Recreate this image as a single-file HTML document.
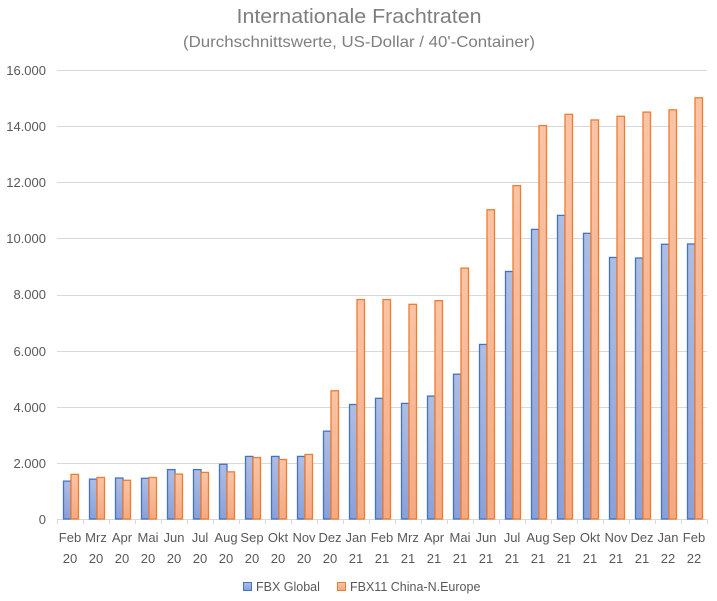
<!DOCTYPE html>
<html><head><meta charset="utf-8"><style>
body{margin:0;background:#fff}
svg{display:block;font-family:"Liberation Sans",sans-serif}
</style></head><body>
<svg id="s" width="717" height="601" viewBox="0 0 717 601">
<defs>
<linearGradient id="gb" x1="0" y1="0" x2="0" y2="1"><stop offset="0" stop-color="#aebde3"/><stop offset="1" stop-color="#8aa0d9"/></linearGradient>
<linearGradient id="go" x1="0" y1="0" x2="0" y2="1"><stop offset="0" stop-color="#f9c4a6"/><stop offset="1" stop-color="#f5a982"/></linearGradient>
</defs>
<rect width="717" height="601" fill="#fff"/>
<text x="359" y="23" text-anchor="middle" font-size="20" fill="#7f7f7f" textLength="245" lengthAdjust="spacingAndGlyphs">Internationale Frachtraten</text>
<text x="359" y="47" text-anchor="middle" font-size="16" fill="#7f7f7f" textLength="352" lengthAdjust="spacingAndGlyphs">(Durchschnittswerte, US-Dollar / 40'-Container)</text>
<g id="grid" stroke="#d9d9d9" stroke-width="1"></g>
<g id="bars"></g>
<g font-size="13" fill="#595959" text-anchor="end">
<text x="46" y="524">0</text>
<text x="46" y="468">2.000</text>
<text x="46" y="412">4.000</text>
<text x="46" y="356">6.000</text>
<text x="46" y="299">8.000</text>
<text x="46" y="243">10.000</text>
<text x="46" y="187">12.000</text>
<text x="46" y="131">14.000</text>
<text x="46" y="75">16.000</text>
</g>
<g font-size="13" fill="#595959" text-anchor="middle">
<text x="70" y="542">Feb</text><text x="70" y="563">20</text>
<text x="96" y="542">Mrz</text><text x="96" y="563">20</text>
<text x="122" y="542">Apr</text><text x="122" y="563">20</text>
<text x="148" y="542">Mai</text><text x="148" y="563">20</text>
<text x="174" y="542">Jun</text><text x="174" y="563">20</text>
<text x="200" y="542">Jul</text><text x="200" y="563">20</text>
<text x="226" y="542">Aug</text><text x="226" y="563">20</text>
<text x="252" y="542">Sep</text><text x="252" y="563">20</text>
<text x="278" y="542">Okt</text><text x="278" y="563">20</text>
<text x="304" y="542">Nov</text><text x="304" y="563">20</text>
<text x="330" y="542">Dez</text><text x="330" y="563">20</text>
<text x="356" y="542">Jan</text><text x="356" y="563">21</text>
<text x="382" y="542">Feb</text><text x="382" y="563">21</text>
<text x="408" y="542">Mrz</text><text x="408" y="563">21</text>
<text x="434" y="542">Apr</text><text x="434" y="563">21</text>
<text x="460" y="542">Mai</text><text x="460" y="563">21</text>
<text x="486" y="542">Jun</text><text x="486" y="563">21</text>
<text x="512" y="542">Jul</text><text x="512" y="563">21</text>
<text x="538" y="542">Aug</text><text x="538" y="563">21</text>
<text x="564" y="542">Sep</text><text x="564" y="563">21</text>
<text x="590" y="542">Okt</text><text x="590" y="563">21</text>
<text x="616" y="542">Nov</text><text x="616" y="563">21</text>
<text x="642" y="542">Dez</text><text x="642" y="563">21</text>
<text x="668" y="542">Jan</text><text x="668" y="563">22</text>
<text x="694" y="542">Feb</text><text x="694" y="563">22</text>
</g>
<rect x="243.5" y="582.5" width="8" height="8" fill="url(#gb)" stroke="#4472c4"/>
<text x="256" y="591" font-size="12.5" fill="#595959">FBX Global</text>
<rect x="337.5" y="582.5" width="8" height="8" fill="url(#go)" stroke="#ed7d31"/>
<text x="350" y="591" font-size="12.5" fill="#595959">FBX11 China-N.Europe</text>
</svg>
<script>
var ns="http://www.w3.org/2000/svg";
var b=[1350,1420,1460,1450,1760,1760,1950,2230,2230,2230,3130,4080,4300,4120,4380,5160,6220,8820,10320,10820,10180,9320,9300,9790,9800];
var o=[1590,1480,1380,1480,1600,1660,1680,2190,2120,2300,4570,7820,7820,7650,7780,8940,11020,11880,14020,14420,14220,14350,14500,14580,15010];
var g=document.getElementById("grid"),B=document.getElementById("bars");
function el(p,t,a){var e=document.createElementNS(ns,t);for(var k in a)e.setAttribute(k,a[k]);p.appendChild(e);return e;}
for(var k=1;k<=8;k++){var y=Math.round(519-k*56.125)+0.5;el(g,"line",{x1:57,x2:707,y1:y,y2:y});}
el(g,"line",{x1:57,x2:707,y1:519.5,y2:519.5});
for(var i=0;i<=25;i++){var x=57+26*i+0.5;el(g,"line",{x1:x,x2:x,y1:519.5,y2:524});}
var s=449/16000;
for(var i=0;i<25;i++){var x0=57+26*i;
var hb=b[i]*s,ho=o[i]*s;
el(B,"rect",{x:x0+6.5,y:519-hb,width:7.5,height:hb,fill:"url(#gb)",stroke:"#4472c4","stroke-width":1.3});
el(B,"rect",{x:x0+14,y:519-ho,width:7.5,height:ho,fill:"url(#go)",stroke:"#ed7d31","stroke-width":1.3});}
</script>
</body></html>
